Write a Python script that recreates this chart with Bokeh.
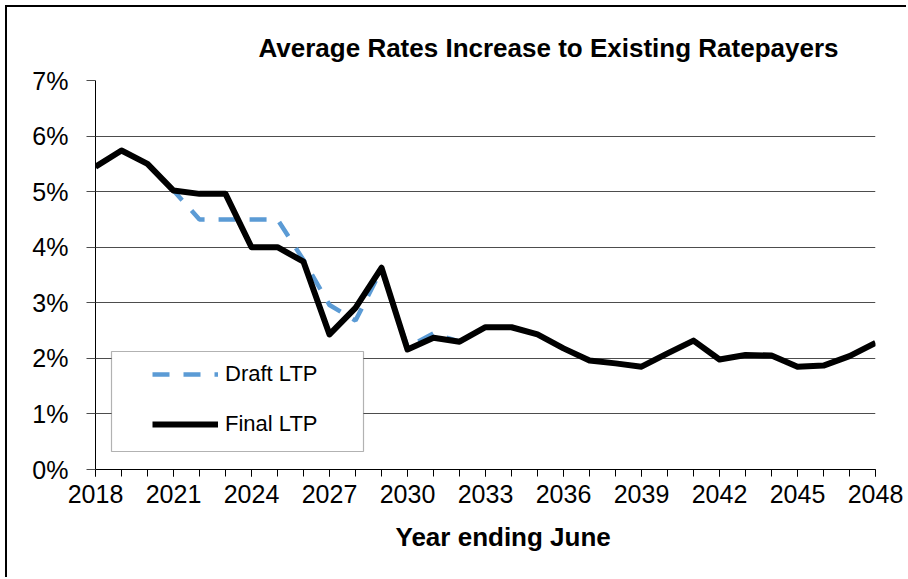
from bokeh.plotting import figure
from bokeh.models import Range1d, FixedTicker, Legend, LegendItem, Title, BoxAnnotation
from bokeh.embed import file_html
from bokeh.resources import INLINE

# ---- data ----
years = list(range(2018, 2049))
final_ltp = [5.45, 5.74, 5.50, 5.02, 4.96, 4.96, 4.00, 4.00, 3.74, 2.43,
             2.91, 3.63, 2.16, 2.37, 2.30, 2.56, 2.56, 2.43, 2.18, 1.96,
             1.91, 1.85, 2.09, 2.32, 1.98, 2.06, 2.05, 1.85, 1.87, 2.04, 2.28]
draft_ltp = [5.45, 5.74, 5.50, 5.02, 4.50, 4.50, 4.50, 4.50, 3.77, 2.96,
             2.68, 3.60, 2.20, 2.45, 2.30, 2.56, 2.56, 2.43, 2.18, 1.96,
             1.91, 1.85, 2.09, 2.32, 1.98, 2.06, 2.05, 1.85, 1.87, 2.04, 2.28]
x_tick_years = years[::3]
y_ticks = [0, 1, 2, 3, 4, 5, 6, 7]
y_tick_labels = [f"{v}%" for v in y_ticks]
series_names = ["Draft LTP", "Final LTP"]
title_text = "Average Rates Increase to Existing Ratepayers"
x_label_text = "Year ending June"

FONT = "Liberation Sans"

p = figure(width=901, height=572, output_backend="svg", toolbar_location=None,
           x_range=Range1d(years[0], years[-1]), y_range=Range1d(y_ticks[0], y_ticks[-1]),
           min_border_left=88, min_border_right=33, min_border_top=73, min_border_bottom=110)
p.styles = {"margin-left": "5px", "margin-top": "5px",
            "border-left": "2px solid black", "border-top": "2px solid black"}
p.outline_line_color = None
p.background_fill_color = "white"
p.border_fill_color = "white"

p.xgrid.visible = False
p.ygrid.grid_line_color = "#4d4d4d"
p.ygrid.grid_line_width = 1

# axes
xa = p.xaxis[0]
xa.ticker = FixedTicker(ticks=x_tick_years, minor_ticks=years)
xa.major_tick_out = 7
xa.major_tick_in = 0
xa.minor_tick_out = 7
xa.minor_tick_in = 0
xa.major_tick_line_color = "black"
xa.minor_tick_line_color = "black"
xa.axis_line_color = "black"
xa.major_label_text_font = FONT
xa.major_label_text_font_size = "25px"
xa.major_label_text_color = "black"
xa.major_label_standoff = 8

ya = p.yaxis[0]
ya.ticker = FixedTicker(ticks=y_ticks, minor_ticks=[])
ya.major_label_overrides = {v: s for v, s in zip(y_ticks, y_tick_labels)}
ya.major_tick_out = 9
ya.major_tick_in = 0
ya.major_tick_line_color = "#4d4d4d"
ya.minor_tick_line_color = None
ya.axis_line_color = "black"
ya.major_label_text_font = FONT
ya.major_label_text_font_size = "25px"
ya.major_label_text_color = "black"
ya.major_label_standoff = 18

# lines
r_draft = p.line(years, draft_ltp, line_color="#5B9BD5", line_width=4.5, line_dash="17 14")
r_final = p.line(years, final_ltp, line_color="black", line_width=6, line_join="round")

# legend box
box = BoxAnnotation(left=16, right=268, bottom=18, top=118,
                    left_units="screen", right_units="screen",
                    bottom_units="screen", top_units="screen",
                    fill_color="white", fill_alpha=1.0,
                    line_color="black", line_width=1.2)
p.add_layout(box)

legend = Legend(items=[LegendItem(label=series_names[0], renderers=[r_draft]),
                       LegendItem(label=series_names[1], renderers=[r_final])],
                location=(57, 32), orientation="vertical",
                padding=10, spacing=24, glyph_width=66, glyph_height=26,
                label_height=26, label_standoff=7,
                label_text_font=FONT, label_text_font_size="22px",
                label_text_color="black",
                border_line_color=None, background_fill_alpha=0.0)
p.add_layout(legend)

# title and x-axis label
p.title = Title(text=title_text, align="left", offset=163, standoff=35,
                text_font=FONT, text_font_size="26px", text_font_style="bold",
                text_color="black")
p.add_layout(Title(text=x_label_text, align="left", offset=300, standoff=28,
                   text_font=FONT, text_font_size="26px", text_font_style="bold",
                   text_color="black"), "below")

open("out.html", "w").write(file_html(p, INLINE))
